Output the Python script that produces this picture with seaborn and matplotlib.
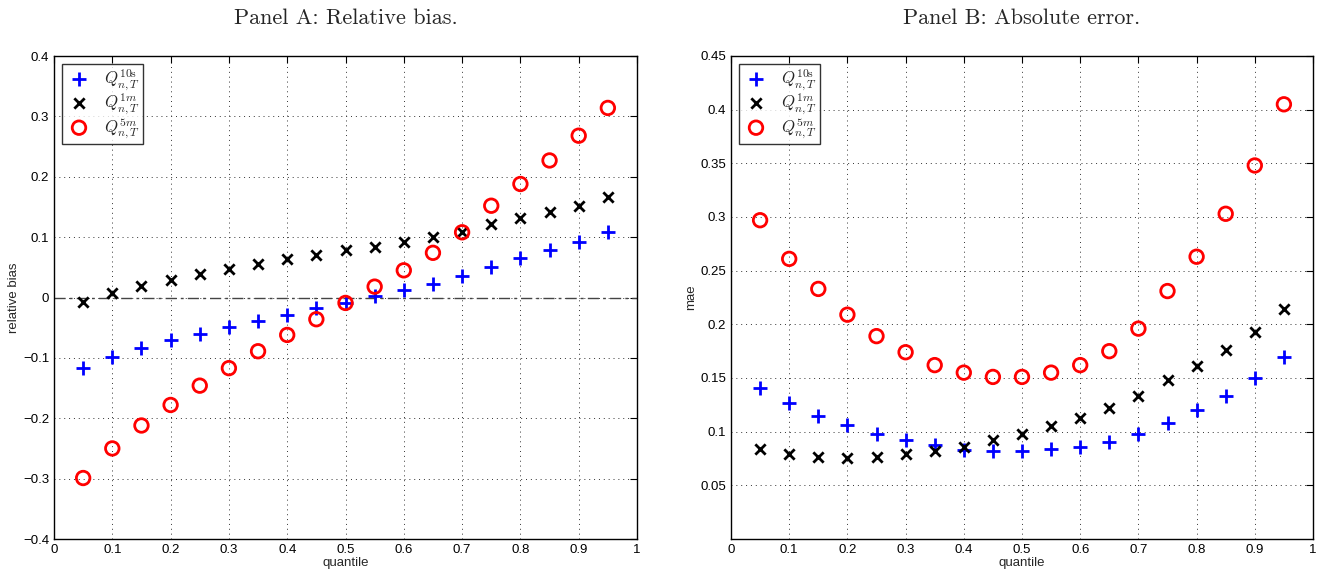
import numpy as np
import pandas as pd
import seaborn as sns
import matplotlib.pyplot as plt
from matplotlib.ticker import FuncFormatter

# data
quantiles = [0.05, 0.10, 0.15, 0.20, 0.25, 0.30, 0.35, 0.40, 0.45, 0.50,
             0.55, 0.60, 0.65, 0.70, 0.75, 0.80, 0.85, 0.90, 0.95]

bias_10s = [-0.117, -0.099, -0.084, -0.071, -0.060, -0.049, -0.039, -0.029, -0.018, -0.009,
            0.002, 0.012, 0.022, 0.036, 0.051, 0.065, 0.078, 0.092, 0.109]
bias_1m = [-0.007, 0.008, 0.019, 0.029, 0.039, 0.047, 0.055, 0.063, 0.070, 0.078,
           0.084, 0.092, 0.100, 0.109, 0.122, 0.131, 0.141, 0.152, 0.166]
bias_5m = [-0.299, -0.250, -0.212, -0.178, -0.146, -0.117, -0.089, -0.062, -0.036, -0.009,
           0.018, 0.045, 0.074, 0.108, 0.152, 0.188, 0.227, 0.268, 0.314]

mae_10s = [0.141, 0.127, 0.115, 0.106, 0.098, 0.092, 0.088, 0.083, 0.082, 0.082,
           0.084, 0.086, 0.090, 0.098, 0.108, 0.120, 0.133, 0.150, 0.170]
mae_1m = [0.084, 0.079, 0.076, 0.0755, 0.076, 0.079, 0.082, 0.086, 0.092, 0.098,
          0.105, 0.113, 0.122, 0.133, 0.148, 0.161, 0.176, 0.1925, 0.214]
mae_5m = [0.297, 0.261, 0.233, 0.209, 0.189, 0.174, 0.162, 0.155, 0.151, 0.151,
          0.155, 0.162, 0.175, 0.196, 0.231, 0.263, 0.303, 0.348, 0.405]

labels = [r'$Q^{\mathrm{10s}}_{n,T}$', r'$Q^{1m}_{n,T}$', r'$Q^{5m}_{n,T}$']

sns.set_style('white')
plt.rcParams['font.family'] = ['Liberation Sans', 'DejaVu Sans']
plt.rcParams['mathtext.fontset'] = 'cm'

fig = plt.figure(figsize=(13.3, 5.8), dpi=100)
ax1 = fig.add_axes([54/1330, 41/580, 583/1330, 483/580])
ax2 = fig.add_axes([731/1330, 41/580, 582/1330, 483/580])


def draw(ax, s10, s1m, s5m):
    sns.scatterplot(x=quantiles, y=s10, ax=ax, marker='+', color='blue', s=95,
                    linewidth=2, label=labels[0], zorder=3)
    sns.scatterplot(x=quantiles, y=s1m, ax=ax, marker='x', color='black', s=55,
                    linewidth=2, label=labels[1], zorder=3)
    sns.scatterplot(x=quantiles, y=s5m, ax=ax, marker='o', facecolors='none',
                    edgecolor='red', s=95, linewidth=2, label=labels[2], zorder=3)


draw(ax1, bias_10s, bias_1m, bias_5m)
draw(ax2, mae_10s, mae_1m, mae_5m)

ax1.axhline(0, color='#444444', linestyle=(0, (8, 3, 2, 3)), linewidth=1, zorder=2)

ax1.set_xlim(0, 1)
ax1.set_ylim(-0.4, 0.4)
ax1.set_yticks(np.arange(-0.4, 0.41, 0.1))
ax2.set_xlim(0, 1)
ax2.set_ylim(0, 0.45)
ax2.set_yticks(np.arange(0.05, 0.451, 0.05))


def tick_fmt(v, p):
    if abs(v) < 1e-9:
        return '0'
    return ('%g' % round(v, 3)).replace('-', '\u2212')


fmt = FuncFormatter(tick_fmt)
for ax in (ax1, ax2):
    ax.set_xticks(np.arange(0, 1.01, 0.1))
    ax.xaxis.set_major_formatter(fmt)
    ax.yaxis.set_major_formatter(fmt)
    ax.grid(True, linestyle=(0, (1, 4)), color='#333333', linewidth=0.7)
    ax.tick_params(direction='in', length=5, width=0.8, top=True, right=True,
                   labelsize=9.5, colors='black')
    for sp in ax.spines.values():
        sp.set_color('black')
        sp.set_linewidth(1.0)
    ax.set_xlabel('quantile', fontsize=9.5, labelpad=1)
    leg = ax.legend(loc='upper left', fontsize=12, frameon=True, fancybox=False,
                    edgecolor='black', borderpad=0.2, handletextpad=0.7,
                    labelspacing=-0.05, borderaxespad=0.5, handlelength=1.6)
    leg.get_frame().set_linewidth(1.0)

ax1.set_ylabel('relative bias', fontsize=9.5, labelpad=2)
ax2.set_ylabel('mae', fontsize=9.5, labelpad=2)

fig.text((54 + 637) / 2 / 1330, 1 - 18/580, 'Panel A: Relative bias.',
         ha='center', va='center', fontsize=16, family='cmr10')
fig.text((731 + 1313) / 2 / 1330, 1 - 18/580, 'Panel B: Absolute error.',
         ha='center', va='center', fontsize=16, family='cmr10')

fig.savefig('out.png', dpi=100)
